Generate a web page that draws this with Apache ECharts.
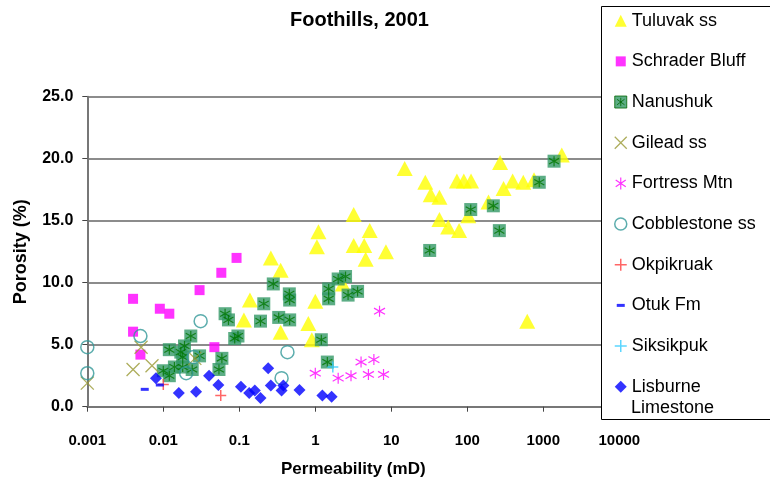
<!DOCTYPE html>
<html><head><meta charset="utf-8">
<script src="https://cdn.jsdelivr.net/npm/echarts@6/dist/echarts.min.js"></script>
<style>html,body{margin:0;padding:0;background:#fff}#c{width:770px;height:480px}</style>
</head><body><div id="c"></div>
<script>
const titleText = 'Foothills, 2001';
const xAxisName = 'Permeability (mD)';
const yAxisName = 'Porosity (%)';
const xTickLabels = ['0.001', '0.01', '0.1', '1', '10', '100', '1000', '10000'];
const yTickValues = [0, 5, 10, 15, 20, 25];

const tuluvak = [[0.115,7.0],[0.138,8.6],[0.26,12.0],[0.35,11.0],[0.35,6.0],[0.81,6.7],[0.90,5.4],[1.0,8.5],[1.05,12.9],[1.1,14.1],[2.3,9.9],[3.2,13.0],[3.2,15.5],[4.4,13.0],[4.6,11.9],[5.2,14.2],[8.5,12.5],[15,19.2],[28,18.1],[33,17.1],[43,16.9],[43,15.1],[56,14.5],[73,18.2],[78,14.2],[90,18.2],[103,15.4],[112,18.2],[190,16.5],[270,19.7],[300,17.6],[395,18.2],[545,18.1],[755,18.3],[1750,20.3],[615,6.9]];
const schraderBluff = [[0.004,8.7],[0.009,7.9],[0.012,7.5],[0.004,6.05],[0.005,4.2],[0.03,9.4],[0.092,12.0],[0.058,10.8],[0.047,4.8]];
const nanushuk = [[0.023,5.7],[0.019,4.9],[0.012,4.6],[0.030,4.1],[0.018,4.0],[0.014,3.2],[0.010,2.9],[0.012,2.5],[0.024,3.0],[0.017,4.4],[0.018,3.2],[0.059,3.9],[0.054,3.0],[0.065,7.5],[0.072,7.0],[0.096,5.7],[0.087,5.5],[0.28,9.9],[0.455,9.1],[0.46,8.6],[0.21,8.3],[0.19,6.9],[0.33,7.2],[0.46,7.0],[1.2,5.4],[1.44,3.6],[1.5,9.5],[1.5,8.7],[2.0,10.3],[2.5,10.5],[2.7,9.0],[3.6,9.3],[32,12.6],[111,15.9],[220,16.2],[264,14.2],[885,18.1],[1385,19.8]];
const gilead = [[0.001,1.9],[0.004,3.0],[0.0071,3.3],[0.0051,4.8],[0.026,3.9]];
const fortressMtn = [[1.0,2.7],[2.0,2.3],[2.95,2.5],[4.0,3.6],[5.9,3.8],[5.0,2.6],[7.9,2.6],[7.0,7.7]];
const cobblestone = [[0.001,4.8],[0.001,2.7],[0.005,5.7],[0.031,6.9],[0.025,4.0],[0.02,2.7],[0.43,4.4],[0.36,2.3]];
const okpikruak = [[0.01,1.8],[0.057,0.9]];
const otukFm = [[0.0057,1.4],[0.009,1.75]];
const siksikpuk = [[1.7,3.2]];
const lisburne = [[0.008,2.3],[0.016,1.1],[0.027,1.2],[0.040,2.5],[0.053,1.75],[0.105,1.6],[0.135,1.1],[0.16,1.3],[0.19,0.7],[0.24,3.1],[0.26,1.7],[0.38,1.7],[0.36,1.3],[0.62,1.35],[1.24,0.9],[1.64,0.8]];

const FONT = '"Liberation Sans", Arial, sans-serif';
const X_PATH = 'path://M0,0L10,10M10,0L0,10';
const PLUS_PATH = 'path://M5,0L5,10M0,5L10,5';
const STAR_PATH = 'path://M5,0L5,10M0.8,2.2L9.2,7.8M0.8,7.8L9.2,2.2';
const NAN_ICON = 'path://M0,0L12,0L12,12L0,12ZM6,1.8L6,10.2M2.2,3.2L9.8,8.8M2.2,8.8L9.8,3.2';
const DASH_ICON = 'path://M0,0M12,12M2,4.5L10,4.5L10,7.5L2,7.5Z';

function sc(name, data, symbol, size, itemStyle) {
  return { name, type: 'scatter', data, symbol, symbolSize: size, itemStyle, silent: true };
}

const chart = echarts.init(document.getElementById('c'), null, { renderer: 'canvas' });
chart.setOption({
  animation: false,
  backgroundColor: '#fff',
  title: {
    text: titleText, left: 285, top: 5,
    textStyle: { fontFamily: FONT, fontSize: 20, fontWeight: 'bold', color: '#000' }
  },
  grid: { left: 87.3, right: 150.7, top: 96.7, bottom: 73.3, containLabel: false, outerBoundsMode: 'none' },
  xAxis: {
    type: 'log', logBase: 10, min: 0.001, max: 10000, splitNumber: 7,
    name: xAxisName, nameLocation: 'middle', nameGap: 54,
    nameTextStyle: { fontFamily: FONT, fontSize: 17, fontWeight: 'bold', color: '#000' },
    axisLine: { lineStyle: { color: '#777', width: 2 } },
    axisTick: { show: true, length: 5, lineStyle: { color: '#444', width: 1 } },
    minorTick: { show: false },
    splitLine: { show: false },
    axisLabel: {
      margin: 27, fontFamily: FONT, fontSize: 15, fontWeight: 'bold', color: '#000',
      formatter: v => xTickLabels[Math.round(Math.log10(v)) + 3]
    }
  },
  yAxis: {
    type: 'value', min: yTickValues[0], max: yTickValues[yTickValues.length - 1], interval: 5,
    name: yAxisName, nameLocation: 'middle', nameGap: 57,
    nameTextStyle: { fontFamily: FONT, fontSize: 18, fontWeight: 'bold', color: '#000' },
    axisLine: { show: true, lineStyle: { color: '#777', width: 2 } },
    axisTick: { show: true, length: 5, lineStyle: { color: '#444', width: 1 } },
    splitLine: { show: true, lineStyle: { color: '#666', width: 1.6 } },
    axisLabel: {
      margin: 14, fontFamily: FONT, fontSize: 16, fontWeight: 'bold', color: '#000',
      formatter: v => v.toFixed(1)
    }
  },
  legend: {
    orient: 'vertical', left: 614, top: 10.7, padding: 0, itemGap: 20.67,
    itemWidth: 12, itemHeight: 12, selectedMode: false, z: 5,
    textStyle: { fontFamily: FONT, fontSize: 18, color: '#000', lineHeight: 20 },
    formatter: n => n === 'Lisburne Limestone' ? 'Lisburne' : n,
    data: [
      { name: 'Tuluvak ss', icon: 'triangle', itemStyle: { color: '#FFFF00', borderWidth: 0 } },
      { name: 'Schrader Bluff', icon: 'path://M0,0M12,12M1,1L11,1L11,11L1,11Z', itemStyle: { color: '#FF00FF', borderWidth: 0 } },
      { name: 'Nanushuk', icon: NAN_ICON, itemStyle: { color: '#339966', borderColor: '#006600', borderWidth: 1 } },
      { name: 'Gilead ss', icon: X_PATH, itemStyle: { color: '#999933', borderColor: '#999933', borderWidth: 1.3 } },
      { name: 'Fortress Mtn', icon: STAR_PATH, itemStyle: { color: '#FF00FF', borderColor: '#FF00FF', borderWidth: 1.2 } },
      { name: 'Cobblestone ss', icon: 'circle', itemStyle: { color: 'rgba(0,0,0,0)', borderColor: '#339999', borderWidth: 1.5 } },
      { name: 'Okpikruak', icon: PLUS_PATH, itemStyle: { color: '#FF4040', borderColor: '#FF4040', borderWidth: 1.5 } },
      { name: 'Otuk Fm', icon: DASH_ICON, itemStyle: { color: '#0000FF', borderWidth: 0 } },
      { name: 'Siksikpuk', icon: PLUS_PATH, itemStyle: { color: '#33CCFF', borderColor: '#33CCFF', borderWidth: 1.5 } },
      { name: 'Lisburne Limestone', icon: 'diamond', itemStyle: { color: '#0000FF', borderWidth: 0 } }
    ]
  },
  graphic: [
    { type: 'rect', z: 3, zlevel: 0, shape: { x: 601.5, y: 6.5, width: 200, height: 413 },
      style: { fill: '#fff', stroke: '#000', lineWidth: 1 } },
    { type: 'text', z: 6, x: 631, y: 408,
      style: { text: 'Limestone', fontFamily: FONT, fontSize: 18, fill: '#000', verticalAlign: 'middle' } }
  ],
  series: [
    sc('Tuluvak ss', tuluvak, 'triangle', [16, 15], { color: '#FFFF00' }),
    sc('Schrader Bluff', schraderBluff, 'rect', 10, { color: '#FF00FF' }),
    sc('Nanushuk', nanushuk, 'rect', 13, { color: '#339966' }),
    sc('Nanushuk', nanushuk, STAR_PATH, 10, { color: '#007700', borderColor: '#007700', borderWidth: 1.2 }),
    sc('Gilead ss', gilead, X_PATH, 13, { color: '#999933', borderColor: '#999933', borderWidth: 1.3 }),
    sc('Fortress Mtn', fortressMtn, STAR_PATH, 11, { color: '#FF00FF', borderColor: '#FF00FF', borderWidth: 1.2 }),
    sc('Cobblestone ss', cobblestone, 'circle', 13, { color: 'rgba(0,0,0,0)', borderColor: '#339999', borderWidth: 1.5 }),
    sc('Okpikruak', okpikruak, PLUS_PATH, 11, { color: '#FF4040', borderColor: '#FF4040', borderWidth: 1.5 }),
    sc('Otuk Fm', otukFm, 'rect', [8, 3], { color: '#0000FF' }),
    sc('Siksikpuk', siksikpuk, PLUS_PATH, 11, { color: '#33CCFF', borderColor: '#33CCFF', borderWidth: 1.5 }),
    sc('Lisburne Limestone', lisburne, 'diamond', 12, { color: '#0000FF' })
  ]
});
</script></body></html>
